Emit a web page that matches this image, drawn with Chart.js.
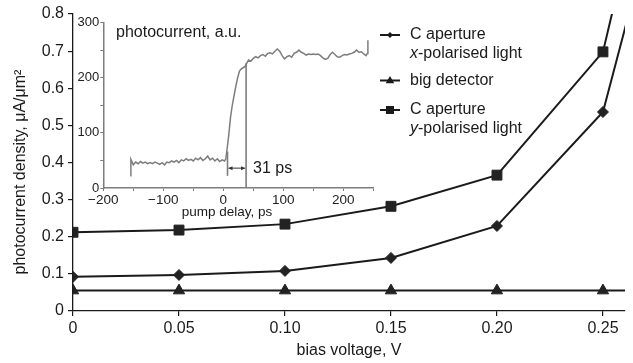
<!DOCTYPE html>
<html>
<head>
<meta charset="utf-8">
<script src="https://cdn.jsdelivr.net/npm/chart.js@4.4.0/dist/chart.umd.min.js"></script>
<style>
  html, body { margin: 0; padding: 0; background: #fff; }
  #wrap { position: relative; width: 633px; height: 363px; }
  #mainChart { position: absolute; left: 0; top: 0; }
  #insetChart { position: absolute; left: 60px; top: 10px; }
</style>
</head>
<body>
<div id="wrap">
  <canvas id="mainChart" width="633" height="363"></canvas>
  <canvas id="insetChart" width="330" height="215"></canvas>
</div>
<script>
// main chart data (last point is off the right edge, only the line shows)
const biasVoltage = [0, 0.05, 0.10, 0.15, 0.20, 0.25, 0.30];
const xTickValues = [0, 0.05, 0.10, 0.15, 0.20, 0.25];
const xTickLabels = ['0', '0.05', '0.10', '0.15', '0.20', '0.25'];
const yTickLabels = ['0', '0.1', '0.2', '0.3', '0.4', '0.5', '0.6', '0.7', '0.8'];
const xPolarised = [0.092, 0.097, 0.108, 0.143, 0.229, 0.536, 1.62];
const bigDetector = [0.055, 0.055, 0.055, 0.055, 0.055, 0.055, 0.055];
const yPolarised = [0.212, 0.218, 0.234, 0.282, 0.366, 0.698, 1.9];

// inset: photocurrent trace vs pump delay
const insetDelay = [-155, -154, -150, -146, -142, -138, -134, -130, -126, -122, -118, -114, -110, -106,
  -102, -98, -94, -90, -86, -82, -78, -74, -70, -66, -62, -58, -54, -50, -46, -42, -38, -34, -30,
  -26, -22, -18, -14, -10, -6, -2, 2, 4, 6, 9, 12, 15, 18, 21, 24, 27, 30, 33, 36, 39, 42, 46, 50,
  54, 58, 62, 66, 70, 74, 78, 82, 86, 90, 94, 98, 102, 106, 110, 114, 118, 122, 126, 130, 134, 138,
  142, 146, 150, 154, 158, 162, 166, 170, 174, 178, 182, 186, 190, 194, 198, 202, 206, 210, 214,
  218, 222, 226, 230, 234, 238, 240, 241];
const insetSignal = [22, 52, 42, 47, 44, 48, 45, 47, 44, 46, 44, 47, 45, 43,
  46, 42, 47, 46, 49, 47, 50, 46, 51, 49, 53, 50, 52, 49, 54, 51, 55, 50, 53,
  58, 51, 54, 49, 53, 48, 51, 49, 52, 68, 95, 128, 150, 168, 185, 200, 212, 216, 218, 220, 226, 232, 230, 235,
  238, 236, 240, 242, 239, 244, 245, 243, 248, 252, 248, 240, 234, 238, 240, 237, 244, 246, 250, 246, 244, 241,
  243, 242, 243, 242, 243, 240, 236, 233, 235, 242, 246, 242, 238, 237, 240, 242, 241, 243, 244,
  246, 250, 246, 247, 243, 240, 244, 268];
const riseMarks = [7, 38];
const riseMarkTops = [66, 226];
const riseMarkBottoms = [22, 0];
const arrowLevel = 36;

const FONT = "'Liberation Sans', Arial, sans-serif";
const INK = '#1a1a1a';

function pts(arr) {
  return biasVoltage.map((v, i) => ({ x: v, y: arr[i] }));
}
function radii(r) {
  return biasVoltage.map(v => v > 0.26 ? 0 : r);
}

function markerPath(ctx, style, x, y, s) {
  ctx.beginPath();
  if (style === 'rect') {
    ctx.rect(x - s, y - s, 2 * s, 2 * s);
  } else if (style === 'rectRot') {
    ctx.moveTo(x, y - s); ctx.lineTo(x + s, y); ctx.lineTo(x, y + s); ctx.lineTo(x - s, y);
    ctx.closePath();
  } else {
    ctx.moveTo(x, y - s); ctx.lineTo(x + s * 0.95, y + s * 0.6); ctx.lineTo(x - s * 0.95, y + s * 0.6);
    ctx.closePath();
  }
  ctx.fill();
}

const mainText = {
  id: 'mainText',
  afterDraw(chart) {
    const ctx = chart.ctx;
    ctx.save();
    ctx.fillStyle = INK;
    ctx.font = '16px ' + FONT;
    // axis titles
    ctx.textAlign = 'center';
    ctx.textBaseline = 'middle';
    ctx.fillText('bias voltage, V', 349, 351);
    ctx.save();
    ctx.translate(21, 172);
    ctx.rotate(-Math.PI / 2);
    ctx.fillText('photocurrent density, \u03bcA/\u03bcm\u00b2', 0, 0);
    ctx.restore();

    // legend
    const items = [
      { y: 35, style: 'rectRot', s: 3, lines: [['', 'C aperture'], ['x', '-polarised light']] },
      { y: 80.5, style: 'triangle', s: 4.5, lines: [['', 'big detector']] },
      { y: 110, style: 'rect', s: 4, lines: [['', 'C aperture'], ['y', '-polarised light']] }
    ];
    ctx.textAlign = 'left';
    items.forEach(it => {
      ctx.strokeStyle = INK;
      ctx.lineWidth = 2;
      ctx.beginPath();
      ctx.moveTo(380, it.y); ctx.lineTo(400, it.y);
      ctx.stroke();
      markerPath(ctx, it.style, 390, it.y, it.s);
      it.lines.forEach((ln, k) => {
        const ty = it.y + k * 18.5;
        let tx = 410;
        if (ln[0]) {
          ctx.font = 'italic 16px ' + FONT;
          ctx.fillText(ln[0], tx, ty);
          tx += ctx.measureText(ln[0]).width;
        }
        ctx.font = '16px ' + FONT;
        ctx.fillText(ln[1], tx, ty);
      });
    });
    ctx.restore();
  }
};

function series(label, arr, style, r) {
  return {
    label: label,
    data: pts(arr),
    borderColor: INK,
    backgroundColor: INK,
    borderWidth: 2,
    pointStyle: style,
    pointRadius: radii(r),
    pointBackgroundColor: '#222',
    pointBorderColor: '#222',
    pointBorderWidth: 1,
    tension: 0
  };
}

new Chart(document.getElementById('mainChart'), {
  type: 'line',
  data: {
    datasets: [
      series('C aperture x-polarised light', xPolarised, 'rectRot', 5.5),
      series('big detector', bigDetector, 'triangle', 6.5),
      series('C aperture y-polarised light', yPolarised, 'rect', 7)
    ]
  },
  options: {
    responsive: false,
    animation: false,
    events: [],
    layout: { padding: { top: 14, right: 8, left: 0, bottom: 0 } },
    plugins: { legend: { display: false }, tooltip: { enabled: false } },
    scales: {
      x: {
        type: 'linear',
        min: 0,
        max: 0.2604,
        afterBuildTicks: s => { s.ticks = xTickValues.map(v => ({ value: v })); },
        afterFit: s => { s.height = 52; },
        ticks: {
          callback: (v, i) => xTickLabels[i],
          font: { family: FONT, size: 16 },
          color: INK,
          padding: 3,
          maxRotation: 0,
          autoSkip: false
        },
        grid: { drawOnChartArea: false, tickLength: 5, color: INK, lineWidth: 1.2 },
        border: { display: true, color: INK, width: 1.3 }
      },
      y: {
        min: 0,
        max: 0.8,
        afterFit: s => { s.width = 73; },
        ticks: {
          stepSize: 0.1,
          callback: v => yTickLabels[Math.round(v * 10)],
          font: { family: FONT, size: 16 },
          color: INK,
          padding: 4
        },
        grid: { drawOnChartArea: false, tickLength: 5, color: INK, lineWidth: 1.2 },
        border: { display: true, color: INK, width: 1.3 }
      }
    }
  },
  plugins: [mainText]
});

// inset
const GREY = '#7d7d7d';
const insetExtras = {
  id: 'insetExtras',
  afterDatasetsDraw(chart) {
    const ctx = chart.ctx;
    const xs = chart.scales.x, ys = chart.scales.y;
    ctx.save();
    ctx.strokeStyle = GREY;
    ctx.lineWidth = 1.6;
    riseMarks.forEach((d, i) => {
      const px = xs.getPixelForValue(d);
      ctx.beginPath();
      ctx.moveTo(px, ys.getPixelForValue(riseMarkTops[i]));
      ctx.lineTo(px, ys.getPixelForValue(riseMarkBottoms[i]));
      ctx.stroke();
    });
    // double arrow
    const ay = ys.getPixelForValue(arrowLevel);
    const a0 = xs.getPixelForValue(riseMarks[0]) + 1;
    const a1 = xs.getPixelForValue(riseMarks[1]) - 1;
    ctx.strokeStyle = '#333';
    ctx.fillStyle = '#333';
    ctx.lineWidth = 1;
    ctx.beginPath();
    ctx.moveTo(a0, ay); ctx.lineTo(a1, ay);
    ctx.stroke();
    ctx.beginPath();
    ctx.moveTo(a0, ay); ctx.lineTo(a0 + 4, ay - 2); ctx.lineTo(a0 + 4, ay + 2); ctx.closePath();
    ctx.moveTo(a1, ay); ctx.lineTo(a1 - 4, ay - 2); ctx.lineTo(a1 - 4, ay + 2); ctx.closePath();
    ctx.fill();

    ctx.fillStyle = INK;
    ctx.textBaseline = 'middle';
    ctx.textAlign = 'left';
    ctx.font = '16px ' + FONT;
    ctx.fillText('31 ps', xs.getPixelForValue(riseMarks[1]) + 7, ay);
    ctx.fillText('photocurrent, a.u.', 56, 23);
    ctx.font = '13.5px ' + FONT;
    ctx.textAlign = 'center';
    ctx.fillText('pump delay, ps', 167, 202.5);
    ctx.restore();
  }
};

function minusLabel(v) {
  return v < 0 ? '\u2212' + Math.abs(v) : String(v);
}

new Chart(document.getElementById('insetChart'), {
  type: 'line',
  data: {
    datasets: [{
      data: insetDelay.map((d, i) => ({ x: d, y: insetSignal[i] })),
      borderColor: GREY,
      borderWidth: 1.5,
      pointRadius: 0,
      tension: 0
    }]
  },
  options: {
    responsive: false,
    animation: false,
    events: [],
    layout: { padding: { top: 12.5, right: 16.7, left: 0, bottom: 0 } },
    plugins: { legend: { display: false }, tooltip: { enabled: false } },
    scales: {
      x: {
        type: 'linear',
        min: -200,
        max: 250,
        afterFit: s => { s.height = 37; },
        ticks: {
          stepSize: 50,
          callback: v => v % 100 === 0 ? minusLabel(v) : '',
          font: { family: FONT, size: 13.5 },
          color: '#222',
          padding: 1,
          maxRotation: 0,
          autoSkip: false
        },
        grid: { drawOnChartArea: false, tickLength: 3, color: GREY, lineWidth: 1 },
        border: { display: true, color: GREY, width: 1.5 }
      },
      y: {
        min: 0,
        max: 300,
        afterFit: s => { s.width = 43.3; },
        ticks: {
          stepSize: 50,
          callback: v => v % 100 === 0 ? String(v) : '',
          font: { family: FONT, size: 13 },
          color: '#222',
          padding: 1
        },
        grid: { drawOnChartArea: false, tickLength: 3, color: GREY, lineWidth: 1 },
        border: { display: true, color: GREY, width: 1.5 }
      }
    }
  },
  plugins: [insetExtras]
});
</script>
</body>
</html>
